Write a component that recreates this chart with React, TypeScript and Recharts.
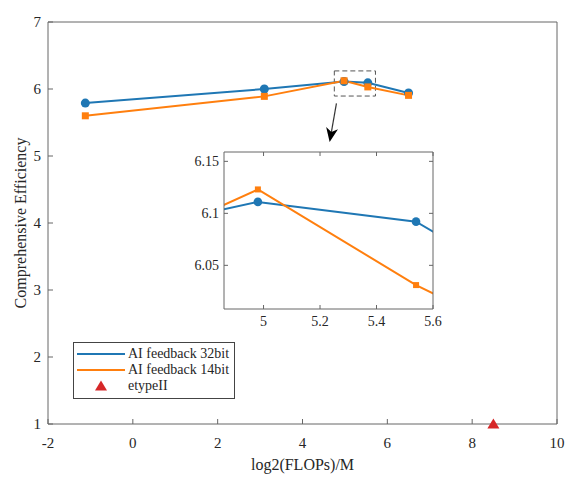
import {
  ComposedChart,
  Label,
  Legend,
  Line,
  LineChart,
  ReferenceArea,
  ReferenceLine,
  Scatter,
  XAxis,
  YAxis,
} from "recharts";

const flops = [-1.12, 3.1, 4.98, 5.54, 6.5];
const feedback32 = [5.79, 6.0, 6.111, 6.092, 5.94];
const feedback14 = [5.6, 5.89, 6.123, 6.031, 5.905];
const etypeFlops = [8.5];
const etypeEff = [1];

const xTicks = [-2, 0, 2, 4, 6, 8, 10];
const yTicks = [1, 2, 3, 4, 5, 6, 7];
const insetXTicks = [5, 5.2, 5.4, 5.6];
const insetYTicks = [6.05, 6.1, 6.15];
const insetXDomain = [4.86, 5.6];
const insetYDomain = [6.008, 6.159];

// dashed zoom window and arrow pointing to the inset (data units)
const zoomBox = { x1: 4.75, x2: 5.72, y1: 5.895, y2: 6.27 };
const arrowFrom = { x: 4.8, y: 5.785 };
const arrowTo = { x: 4.64, y: 5.21 };

const BLUE = "#1f77b4";
const ORANGE = "#ff7f0e";
const RED = "#d62728";
const AXIS = "#666";
const TEXT = "#262626";
const FONT = "Liberation Serif, Times New Roman, serif";

const legendItems = [
  { name: "AI feedback 32bit", color: BLUE, kind: "line" },
  { name: "AI feedback 14bit", color: ORANGE, kind: "line" },
  { name: "etypeII", color: RED, kind: "triangle" },
];

const series32 = flops.map((x, i) => ({ x, y: feedback32[i] }));
const series14 = flops.map((x, i) => ({ x, y: feedback14[i] }));
const etype = etypeFlops.map((x, i) => ({ x, y: etypeEff[i] }));

const square = (size: number) => (p: any) => (
  <rect
    key={`sq-${p.index}`}
    x={p.cx - size / 2}
    y={p.cy - size / 2}
    width={size}
    height={size}
    fill={ORANGE}
  />
);

function Triangle(p: any) {
  const { cx, cy } = p;
  return (
    <polygon
      points={`${cx},${cy - 5.5} ${cx - 6},${cy + 4.5} ${cx + 6},${cy + 4.5}`}
      fill={RED}
    />
  );
}

function Arrow(p: any) {
  const { x1, y1, x2, y2 } = p;
  const a = Math.atan2(y2 - y1, x2 - x1);
  const len = 14;
  const half = 6;
  const bx = x2 - len * Math.cos(a);
  const by = y2 - len * Math.sin(a);
  const nx = x2 - (len - 4) * Math.cos(a);
  const ny = y2 - (len - 4) * Math.sin(a);
  const px = -Math.sin(a) * half;
  const py = Math.cos(a) * half;
  return (
    <g>
      <line x1={x1} y1={y1} x2={nx} y2={ny} stroke="#333" strokeWidth={1.2} />
      <polygon
        points={`${x2},${y2} ${bx + px},${by + py} ${nx},${ny} ${bx - px},${by - py}`}
        fill="#000"
      />
    </g>
  );
}

function LegendBox() {
  return (
    <div
      style={{
        border: "1px solid #444",
        background: "#fff",
        padding: "3px 5px 4px 3px",
        fontFamily: FONT,
        fontSize: 14,
        color: TEXT,
        lineHeight: "16px",
        whiteSpace: "nowrap",
        display: "inline-block",
      }}
    >
      {legendItems.map((it) => (
        <div key={it.name} style={{ display: "flex", alignItems: "center", height: 16 }}>
          <svg width={48} height={16} style={{ marginRight: 3, flex: "none" }}>
            {it.kind === "line" ? (
              <line x1={0} y1={8} x2={48} y2={8} stroke={it.color} strokeWidth={2} />
            ) : (
              <polygon points="24,2.5 18,12.5 30,12.5" fill={it.color} />
            )}
          </svg>
          <span>{it.name}</span>
        </div>
      ))}
    </div>
  );
}

function Inset() {
  const tick = { fill: TEXT, fontSize: 14, fontFamily: FONT };
  return (
    <LineChart
      width={262}
      height={194}
      margin={{ top: 11, right: 8, bottom: 0, left: 0 }}
    >
      <XAxis
        xAxisId="b"
        type="number"
        dataKey="x"
        domain={insetXDomain}
        ticks={insetXTicks}
        allowDataOverflow
        height={25}
        stroke={AXIS}
        tickSize={-4}
        tickMargin={11}
        tick={tick}
      />
      <XAxis
        xAxisId="t"
        orientation="top"
        type="number"
        dataKey="x"
        domain={insetXDomain}
        ticks={insetXTicks}
        allowDataOverflow
        height={1}
        stroke={AXIS}
        tickSize={-4}
        tickFormatter={() => ""}
      />
      <YAxis
        yAxisId="l"
        type="number"
        domain={insetYDomain}
        ticks={insetYTicks}
        allowDataOverflow
        width={44}
        stroke={AXIS}
        tickSize={-4}
        tickMargin={9}
        tick={tick}
      />
      <YAxis
        yAxisId="r"
        orientation="right"
        type="number"
        domain={insetYDomain}
        ticks={insetYTicks}
        allowDataOverflow
        width={1}
        stroke={AXIS}
        tickSize={-4}
        tickFormatter={() => ""}
      />
      <Line
        xAxisId="b"
        yAxisId="l"
        data={series32}
        dataKey="y"
        stroke={BLUE}
        strokeWidth={2}
        dot={{ r: 4.3, fill: BLUE, stroke: BLUE, strokeWidth: 0 }}
        isAnimationActive={false}
      />
      <Line
        xAxisId="b"
        yAxisId="l"
        data={series14}
        dataKey="y"
        stroke={ORANGE}
        strokeWidth={2}
        dot={square(6)}
        isAnimationActive={false}
      />
    </LineChart>
  );
}

export default function App() {
  const tick = { fill: TEXT, fontSize: 15, fontFamily: FONT };
  return (
    <div style={{ position: "absolute", left: 0, top: 0, width: 574, height: 479, background: "#fff" }}>
      <ComposedChart
        width={574}
        height={479}
        margin={{ top: 21, right: 16, bottom: 0, left: 8 }}
      >
        <XAxis
          xAxisId="b"
          type="number"
          dataKey="x"
          domain={[-2, 10]}
          ticks={xTicks}
          height={55}
          stroke={AXIS}
          tickSize={-5}
          tickMargin={18}
          tick={tick}
        >
          <Label
            value="log2(FLOPs)/M"
            position="insideBottom"
            offset={9}
            style={{ fill: TEXT, fontSize: 16, fontFamily: FONT }}
          />
        </XAxis>
        <XAxis
          xAxisId="t"
          orientation="top"
          type="number"
          dataKey="x"
          domain={[-2, 10]}
          ticks={xTicks}
          height={1}
          stroke={AXIS}
          tickSize={-5}
          tickFormatter={() => ""}
        />
        <YAxis
          yAxisId="l"
          type="number"
          domain={[1, 7]}
          ticks={yTicks}
          width={40}
          stroke={AXIS}
          tickSize={-5}
          tickMargin={12}
          tick={tick}
        >
          <Label
            value="Comprehensive Efficiency"
            angle={-90}
            position="center"
            dx={-8}
            style={{ fill: TEXT, fontSize: 16, fontFamily: FONT, textAnchor: "middle" }}
          />
        </YAxis>
        <YAxis
          yAxisId="r"
          orientation="right"
          type="number"
          domain={[1, 7]}
          ticks={yTicks}
          width={1}
          stroke={AXIS}
          tickSize={-5}
          tickFormatter={() => ""}
        />
        <ReferenceArea
          xAxisId="b"
          yAxisId="l"
          x1={zoomBox.x1}
          x2={zoomBox.x2}
          y1={zoomBox.y1}
          y2={zoomBox.y2}
          fill="none"
          stroke="#555"
          strokeWidth={1}
          strokeDasharray="5 3"
        />
        <Line
          xAxisId="b"
          yAxisId="l"
          data={series32}
          dataKey="y"
          name="AI feedback 32bit"
          stroke={BLUE}
          strokeWidth={2}
          dot={{ r: 4.5, fill: BLUE, stroke: BLUE, strokeWidth: 0 }}
          isAnimationActive={false}
        />
        <Line
          xAxisId="b"
          yAxisId="l"
          data={series14}
          dataKey="y"
          name="AI feedback 14bit"
          stroke={ORANGE}
          strokeWidth={2}
          dot={square(7)}
          isAnimationActive={false}
        />
        <Scatter
          xAxisId="b"
          yAxisId="l"
          data={etype}
          dataKey="y"
          name="etypeII"
          fill={RED}
          shape={Triangle}
          isAnimationActive={false}
        />
        <ReferenceLine
          xAxisId="b"
          yAxisId="l"
          segment={[arrowFrom, arrowTo]}
          shape={Arrow}
        />
        <Legend
          layout="vertical"
          align="center"
          verticalAlign="middle"
          content={() => <LegendBox />}
          wrapperStyle={{ left: 73, top: 342, width: "auto", height: "auto" }}
        />
      </ComposedChart>
      <div style={{ position: "absolute", left: 180, top: 140 }}>
        <Inset />
      </div>
    </div>
  );
}
